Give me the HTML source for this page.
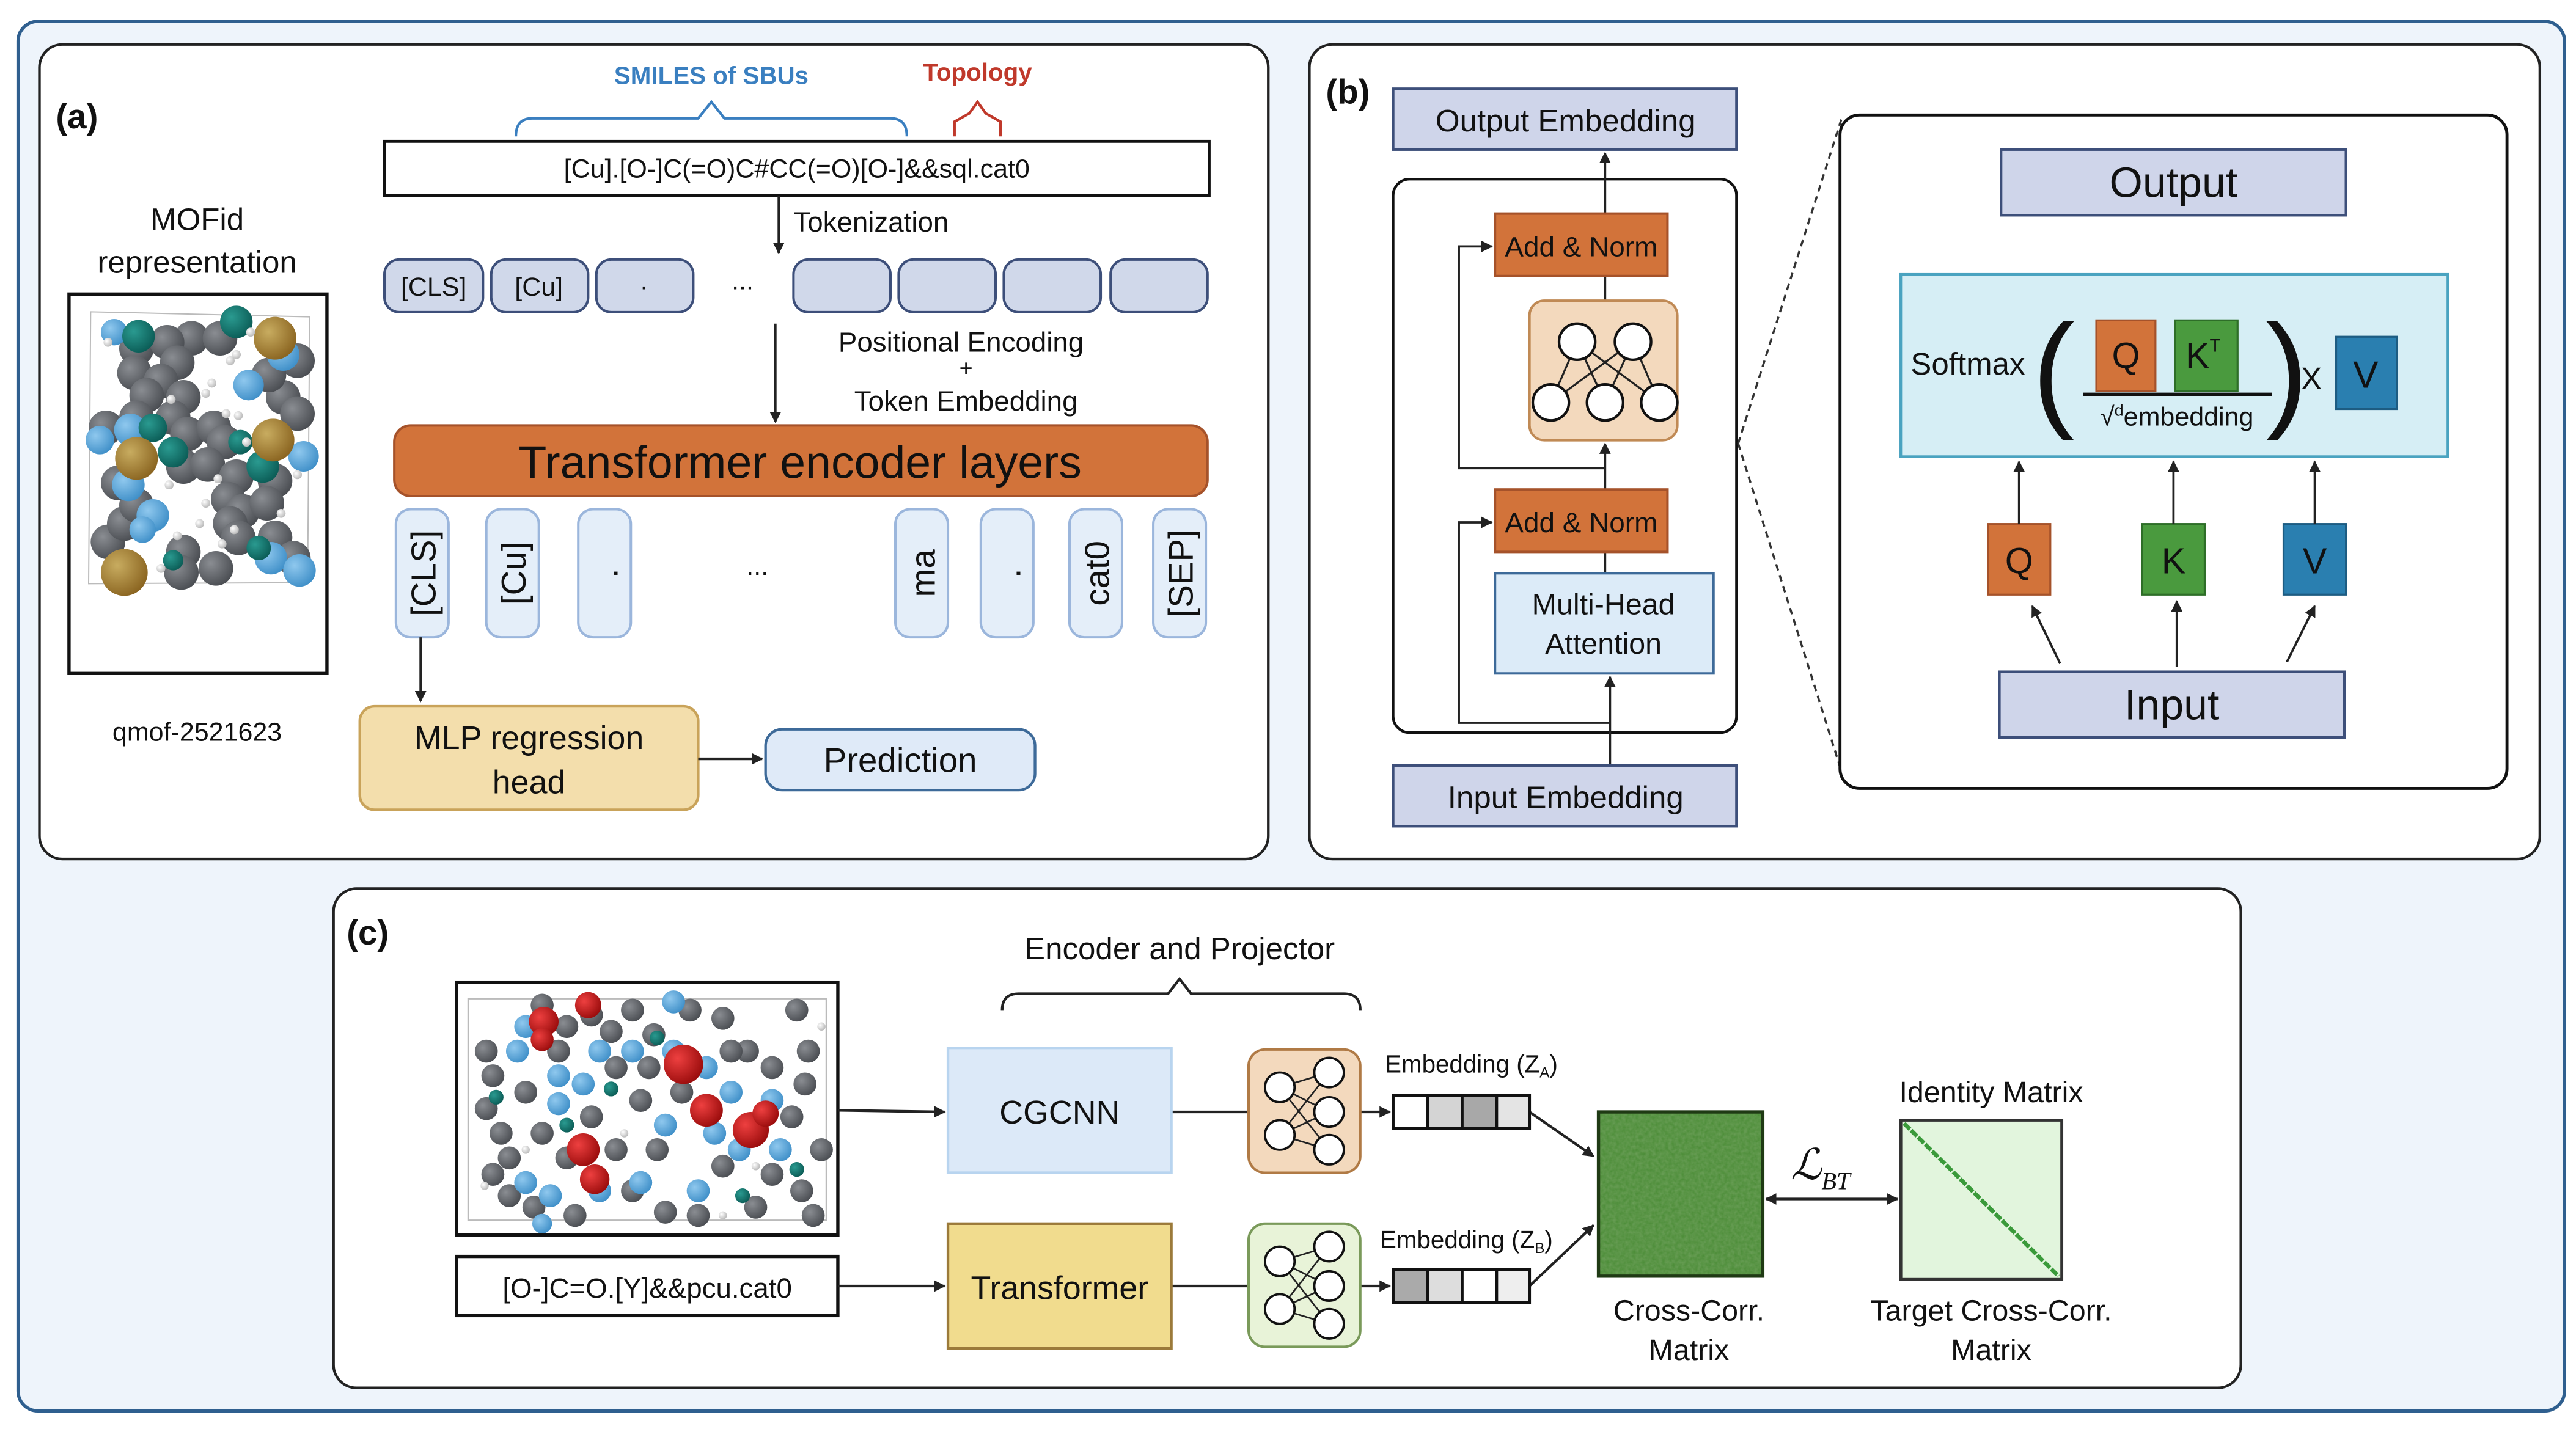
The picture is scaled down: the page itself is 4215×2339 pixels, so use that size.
<!DOCTYPE html>
<html><head><meta charset="utf-8"><style>
html,body{margin:0;padding:0;background:#fff}
svg{display:block}
text{font-family:"Liberation Sans",sans-serif;fill:#111}
</style></head><body>
<svg width="4215" height="2339" viewBox="0 0 1568 870" xmlns="http://www.w3.org/2000/svg">
<defs>
<radialGradient id="gg" cx="0.35" cy="0.35" r="0.7"><stop offset="0" stop-color="#8a8d92"/><stop offset="1" stop-color="#4a4d52"/></radialGradient>
<radialGradient id="gb" cx="0.35" cy="0.35" r="0.7"><stop offset="0" stop-color="#8fc8ee"/><stop offset="1" stop-color="#3f8fc8"/></radialGradient>
<radialGradient id="gt" cx="0.35" cy="0.35" r="0.7"><stop offset="0" stop-color="#2a9a90"/><stop offset="1" stop-color="#0b5c56"/></radialGradient>
<radialGradient id="gr" cx="0.35" cy="0.35" r="0.7"><stop offset="0" stop-color="#c8ac60"/><stop offset="1" stop-color="#8a6420"/></radialGradient>
<radialGradient id="gd" cx="0.35" cy="0.35" r="0.7"><stop offset="0" stop-color="#ee4040"/><stop offset="1" stop-color="#9a0c0c"/></radialGradient>
<radialGradient id="gw" cx="0.35" cy="0.35" r="0.7"><stop offset="0" stop-color="#ffffff"/><stop offset="1" stop-color="#b8b8b8"/></radialGradient>
<filter id="noise" x="0" y="0" width="1" height="1"><feTurbulence type="fractalNoise" baseFrequency="0.5" numOctaves="2" seed="3"/><feColorMatrix type="matrix" values="0 0 0 0 0.15  0 0 0 0 0.35  0 0 0 0 0.1  0 0 0 1.2 -0.2"/><feComposite in2="SourceGraphic" operator="in"/></filter>
<marker id="ar" viewBox="0 0 10 10" refX="9" refY="5" markerWidth="7" markerHeight="7" orient="auto-start-reverse" markerUnits="userSpaceOnUse"><path d="M0,0 L10,5 L0,10 z" fill="#222"/></marker>
</defs>

<rect x="11" y="13" width="1550" height="846" rx="12" fill="#eef4fb" stroke="#2f5f8f" stroke-width="2"/>

<!-- ================= PANEL A ================= -->
<rect x="24" y="27" width="748" height="496" rx="14" fill="#fff" stroke="#222" stroke-width="1.6"/>
<text x="34" y="78" font-size="21" font-weight="bold">(a)</text>
<text x="433" y="51" font-size="15" font-weight="bold" text-anchor="middle" style="fill:#3a7fc0">SMILES of SBUs</text>
<text x="595" y="49" font-size="15" font-weight="bold" text-anchor="middle" style="fill:#c0392b">Topology</text>
<path d="M314,83 Q314,72 324,72 L425,72 L433,62 L441,72 L542,72 Q552,72 552,83" fill="none" stroke="#3a7fc0" stroke-width="1.6"/>
<path d="M581,83 L581,74 L590,69 L595,62 L600,69 L609,74 L609,83" fill="none" stroke="#c0392b" stroke-width="1.6"/>
<rect x="234" y="86" width="502" height="33" fill="#fff" stroke="#111" stroke-width="1.8"/>
<text x="485" y="108" font-size="16" text-anchor="middle">[Cu].[O-]C(=O)C#CC(=O)[O-]&amp;&amp;sql.cat0</text>
<line x1="474" y1="119" x2="474" y2="154" stroke="#222" stroke-width="1.4" marker-end="url(#ar)"/>
<text x="483" y="141" font-size="17">Tokenization</text>
<g fill="#d0d8ea" stroke="#3d4f7a" stroke-width="1.5">
<rect x="234" y="158" width="60" height="32" rx="9"/><rect x="299" y="158" width="59" height="32" rx="9"/><rect x="363" y="158" width="59" height="32" rx="9"/>
<rect x="483" y="158" width="59" height="32" rx="9"/><rect x="547" y="158" width="59" height="32" rx="9"/><rect x="611" y="158" width="59" height="32" rx="9"/><rect x="676" y="158" width="59" height="32" rx="9"/>
</g>
<text x="264" y="180" font-size="16" text-anchor="middle">[CLS]</text>
<text x="328" y="180" font-size="16" text-anchor="middle">[Cu]</text>
<text x="392" y="176" font-size="16" text-anchor="middle">.</text>
<text x="452" y="176" font-size="16" text-anchor="middle">...</text>
<line x1="472" y1="197" x2="472" y2="257" stroke="#222" stroke-width="1.4" marker-end="url(#ar)"/>
<text x="585" y="214" font-size="17" text-anchor="middle">Positional Encoding</text>
<text x="588" y="229" font-size="14" text-anchor="middle">+</text>
<text x="588" y="250" font-size="17" text-anchor="middle">Token Embedding</text>
<rect x="240" y="259" width="495" height="43" rx="10" fill="#d2733a" stroke="#a5522a" stroke-width="1.5"/>
<text x="487" y="291" font-size="28" text-anchor="middle">Transformer encoder layers</text>
<g fill="#e4eef9" stroke="#9bb6dc" stroke-width="1.5">
<rect x="241" y="310" width="32" height="78" rx="9"/><rect x="296" y="310" width="32" height="78" rx="9"/><rect x="352" y="310" width="32" height="78" rx="9"/>
<rect x="545" y="310" width="32" height="78" rx="9"/><rect x="597" y="310" width="32" height="78" rx="9"/><rect x="651" y="310" width="32" height="78" rx="9"/><rect x="702" y="310" width="32" height="78" rx="9"/>
</g>
<g font-size="21">
<text transform="translate(265,349) rotate(-90)" text-anchor="middle">[CLS]</text>
<text transform="translate(320,349) rotate(-90)" text-anchor="middle">[Cu]</text>
<text transform="translate(376,349) rotate(-90)" text-anchor="middle">.</text>
<text transform="translate(569,349) rotate(-90)" text-anchor="middle">ma</text>
<text transform="translate(621,349) rotate(-90)" text-anchor="middle">.</text>
<text transform="translate(675,349) rotate(-90)" text-anchor="middle">cat0</text>
<text transform="translate(726,349) rotate(-90)" text-anchor="middle">[SEP]</text>
</g>
<text x="461" y="350" font-size="16" text-anchor="middle">...</text>
<line x1="256" y1="388" x2="256" y2="427" stroke="#222" stroke-width="1.4" marker-end="url(#ar)"/>
<rect x="219" y="430" width="206" height="63" rx="9" fill="#f3deac" stroke="#c9a35a" stroke-width="1.6"/>
<text x="322" y="456" font-size="20" text-anchor="middle">MLP regression</text>
<text x="322" y="483" font-size="20" text-anchor="middle">head</text>
<line x1="425" y1="462" x2="464" y2="462" stroke="#222" stroke-width="1.6" marker-end="url(#ar)"/>
<rect x="466" y="444" width="164" height="37" rx="10" fill="#dfeaf8" stroke="#3d6a99" stroke-width="1.6"/>
<text x="548" y="470" font-size="21" text-anchor="middle">Prediction</text>
<text x="120" y="140" font-size="19" text-anchor="middle">MOFid</text>
<text x="120" y="166" font-size="19" text-anchor="middle">representation</text>
<text x="120" y="451" font-size="16" text-anchor="middle">qmof-2521623</text>
<rect x="42" y="179" width="157" height="231" fill="#fff" stroke="#111" stroke-width="2"/>
<g transform="translate(37.2,174.9) scale(0.124)">
<path d="M145,120 L1220,145 L1210,1450 L135,1455 Z" fill="none" stroke="#bbb" stroke-width="6"/>
<g fill="url(#gg)">
<circle cx="1160" cy="360" r="85"/><circle cx="1090" cy="540" r="85"/><circle cx="1160" cy="620" r="85"/><circle cx="1020" cy="430" r="85"/>
<circle cx="370" cy="300" r="85"/><circle cx="640" cy="250" r="85"/><circle cx="520" cy="270" r="85"/><circle cx="780" cy="250" r="85"/>
<circle cx="360" cy="420" r="85"/><circle cx="570" cy="370" r="85"/><circle cx="490" cy="460" r="85"/><circle cx="420" cy="530" r="85"/>
<circle cx="600" cy="540" r="85"/><circle cx="370" cy="640" r="85"/><circle cx="220" cy="690" r="85"/><circle cx="550" cy="640" r="85"/>
<circle cx="620" cy="720" r="85"/><circle cx="750" cy="690" r="85"/><circle cx="800" cy="760" r="85"/><circle cx="600" cy="880" r="85"/>
<circle cx="720" cy="870" r="85"/><circle cx="860" cy="930" r="85"/><circle cx="1050" cy="950" r="85"/><circle cx="820" cy="1040" r="85"/>
<circle cx="890" cy="1100" r="85"/><circle cx="1010" cy="1060" r="85"/><circle cx="830" cy="1160" r="85"/><circle cx="1050" cy="1230" r="85"/>
<circle cx="870" cy="1230" r="85"/><circle cx="1140" cy="1330" r="85"/><circle cx="600" cy="1300" r="85"/><circle cx="760" cy="1380" r="85"/>
<circle cx="590" cy="1400" r="85"/><circle cx="230" cy="1250" r="85"/><circle cx="310" cy="1160" r="85"/><circle cx="370" cy="1070" r="85"/><circle cx="280" cy="960" r="85"/>
</g>
<g fill="url(#gb)">
<circle cx="260" cy="220" r="65"/><circle cx="1090" cy="330" r="80"/><circle cx="920" cy="480" r="75"/><circle cx="340" cy="700" r="80"/>
<circle cx="190" cy="750" r="70"/><circle cx="330" cy="970" r="80"/><circle cx="450" cy="1120" r="80"/><circle cx="400" cy="1190" r="65"/>
<circle cx="1190" cy="830" r="75"/><circle cx="1030" cy="1330" r="80"/><circle cx="1170" cy="1390" r="80"/>
</g>
<g fill="url(#gt)">
<circle cx="380" cy="240" r="80"/><circle cx="860" cy="170" r="80"/><circle cx="450" cy="690" r="70"/><circle cx="550" cy="810" r="75"/>
<circle cx="880" cy="760" r="60"/><circle cx="990" cy="880" r="80"/><circle cx="970" cy="1280" r="60"/><circle cx="550" cy="1340" r="50"/>
</g>
<g fill="url(#gr)">
<circle cx="1050" cy="250" r="105"/><circle cx="1040" cy="750" r="105"/><circle cx="370" cy="840" r="105"/><circle cx="310" cy="1400" r="115"/>
</g>
<g fill="url(#gw)">
<circle cx="230" cy="270" r="22"/><circle cx="930" cy="220" r="22"/><circle cx="860" cy="330" r="22"/><circle cx="830" cy="360" r="22"/>
<circle cx="740" cy="470" r="22"/><circle cx="710" cy="520" r="22"/><circle cx="540" cy="550" r="22"/><circle cx="810" cy="620" r="22"/>
<circle cx="870" cy="630" r="22"/><circle cx="910" cy="760" r="22"/><circle cx="770" cy="940" r="22"/><circle cx="530" cy="970" r="22"/>
<circle cx="710" cy="1060" r="22"/><circle cx="680" cy="1160" r="22"/><circle cx="1080" cy="1110" r="22"/><circle cx="850" cy="1190" r="22"/>
<circle cx="570" cy="1220" r="22"/><circle cx="790" cy="1260" r="22"/><circle cx="490" cy="1380" r="22"/><circle cx="1160" cy="920" r="22"/>
</g>
</g>

<!-- ================= PANEL B ================= -->
<rect x="797" y="27" width="749" height="496" rx="14" fill="#fff" stroke="#222" stroke-width="1.6"/>
<text x="807" y="63" font-size="21" font-weight="bold">(b)</text>
<rect x="848" y="54" width="209" height="37" fill="#cfd5ea" stroke="#3d4f7a" stroke-width="1.6"/>
<text x="953" y="80" font-size="19" text-anchor="middle">Output Embedding</text>
<rect x="848" y="109" width="209" height="337" rx="10" fill="#fff" stroke="#111" stroke-width="1.6"/>
<line x1="977" y1="130" x2="977" y2="93" stroke="#222" stroke-width="1.4" marker-end="url(#ar)"/>
<line x1="977" y1="168" x2="977" y2="183" stroke="#222" stroke-width="1.4"/>
<line x1="977" y1="298" x2="977" y2="270" stroke="#222" stroke-width="1.4" marker-end="url(#ar)"/>
<path d="M977,285 L888,285 L888,150 L908,150" fill="none" stroke="#222" stroke-width="1.4" marker-end="url(#ar)"/>
<path d="M980,440 L888,440 L888,318 L908,318" fill="none" stroke="#222" stroke-width="1.4" marker-end="url(#ar)"/>
<line x1="980" y1="466" x2="980" y2="412" stroke="#222" stroke-width="1.4" marker-end="url(#ar)"/>
<line x1="977" y1="336" x2="977" y2="349" stroke="#222" stroke-width="1.4"/>
<rect x="910" y="130" width="105" height="38" fill="#d2733a" stroke="#a5522a" stroke-width="1.5"/>
<text x="962.5" y="156" font-size="17" text-anchor="middle" textLength="93" lengthAdjust="spacingAndGlyphs">Add &amp; Norm</text>
<rect x="931" y="183" width="90" height="85" rx="9" fill="#f3d9bd" stroke="#c08a55" stroke-width="1.5"/>
<g stroke="#222" stroke-width="1.2">
<line x1="960" y1="208" x2="944" y2="245"/><line x1="960" y1="208" x2="977" y2="245"/><line x1="960" y1="208" x2="1010" y2="245"/>
<line x1="994" y1="208" x2="944" y2="245"/><line x1="994" y1="208" x2="977" y2="245"/><line x1="994" y1="208" x2="1010" y2="245"/>
</g>
<g fill="#fff" stroke="#111" stroke-width="1.6">
<circle cx="960" cy="208" r="11"/><circle cx="994" cy="208" r="11"/><circle cx="944" cy="245" r="11"/><circle cx="977" cy="245" r="11"/><circle cx="1010" cy="245" r="11"/>
</g>
<rect x="910" y="298" width="105" height="38" fill="#d2733a" stroke="#a5522a" stroke-width="1.5"/>
<text x="962.5" y="324" font-size="17" text-anchor="middle" textLength="93" lengthAdjust="spacingAndGlyphs">Add &amp; Norm</text>
<rect x="910" y="349" width="133" height="61" fill="#dcebf8" stroke="#3d6a99" stroke-width="1.5"/>
<text x="976" y="374" font-size="18" text-anchor="middle">Multi-Head</text>
<text x="976" y="398" font-size="18" text-anchor="middle">Attention</text>
<rect x="848" y="466" width="209" height="37" fill="#cfd5ea" stroke="#3d4f7a" stroke-width="1.6"/>
<text x="953" y="492" font-size="19" text-anchor="middle">Input Embedding</text>
<line x1="1058" y1="270" x2="1121" y2="72" stroke="#333" stroke-width="1.3" stroke-dasharray="4,3"/>
<line x1="1058" y1="270" x2="1121" y2="470" stroke="#333" stroke-width="1.3" stroke-dasharray="4,3"/>
<rect x="1120" y="70" width="406" height="410" rx="12" fill="#fff" stroke="#111" stroke-width="1.8"/>
<rect x="1218" y="91" width="210" height="40" fill="#cfd5ea" stroke="#3d4f7a" stroke-width="1.6"/>
<text x="1323" y="120" font-size="26" text-anchor="middle">Output</text>
<rect x="1157" y="167" width="333" height="111" fill="#d6eef5" stroke="#4aa3c0" stroke-width="1.6"/>
<text x="1163" y="228" font-size="19">Softmax</text>
<text x="1250" y="252" font-size="78" text-anchor="middle">(</text>
<text x="1392" y="252" font-size="78" text-anchor="middle">)</text>
<rect x="1276" y="195" width="36" height="43" fill="#d2733a" stroke="#a5522a" stroke-width="1.2"/>
<text x="1294" y="224" font-size="22" text-anchor="middle">Q</text>
<rect x="1324" y="195" width="38" height="43" fill="#4a9a3e" stroke="#2e6e28" stroke-width="1.2"/>
<text x="1341" y="224" font-size="22" text-anchor="middle">K<tspan font-size="11" dy="-10">T</tspan></text>
<line x1="1268" y1="240" x2="1383" y2="240" stroke="#111" stroke-width="2"/>
<text x="1325" y="259" font-size="16" text-anchor="middle">√<tspan font-size="10" dy="-6">d</tspan><tspan dy="6">embedding</tspan></text>
<text x="1407" y="237" font-size="19" text-anchor="middle">X</text>
<rect x="1422" y="205" width="37" height="44" fill="#2a7fb0" stroke="#1d5c82" stroke-width="1.2"/>
<text x="1440" y="236" font-size="23" text-anchor="middle">V</text>
<rect x="1210" y="319" width="38" height="43" fill="#d2733a" stroke="#a5522a" stroke-width="1.2"/>
<text x="1229" y="349" font-size="22" text-anchor="middle">Q</text>
<rect x="1304" y="319" width="38" height="43" fill="#4a9a3e" stroke="#2e6e28" stroke-width="1.2"/>
<text x="1323" y="349" font-size="22" text-anchor="middle">K</text>
<rect x="1390" y="319" width="38" height="43" fill="#2a7fb0" stroke="#1d5c82" stroke-width="1.2"/>
<text x="1409" y="349" font-size="22" text-anchor="middle">V</text>
<g stroke="#222" stroke-width="1.4">
<line x1="1229" y1="319" x2="1229" y2="281" marker-end="url(#ar)"/>
<line x1="1323" y1="319" x2="1323" y2="281" marker-end="url(#ar)"/>
<line x1="1409" y1="319" x2="1409" y2="281" marker-end="url(#ar)"/>
<line x1="1254" y1="404" x2="1237" y2="369" marker-end="url(#ar)"/>
<line x1="1325" y1="406" x2="1325" y2="366" marker-end="url(#ar)"/>
<line x1="1392" y1="403" x2="1409" y2="369" marker-end="url(#ar)"/>
</g>
<rect x="1217" y="409" width="210" height="40" fill="#cfd5ea" stroke="#3d4f7a" stroke-width="1.6"/>
<text x="1322" y="438" font-size="26" text-anchor="middle">Input</text>

<!-- ================= PANEL C ================= -->
<rect x="203" y="541" width="1161" height="304" rx="14" fill="#fff" stroke="#222" stroke-width="1.6"/>
<text x="211" y="575" font-size="21" font-weight="bold">(c)</text>
<text x="718" y="584" font-size="19" text-anchor="middle">Encoder and Projector</text>
<path d="M610,615 Q610,605 620,605 L711,605 L718,596 L725,605 L818,605 Q828,605 828,615" fill="none" stroke="#222" stroke-width="1.6"/>
<rect x="278" y="598" width="232" height="154" fill="#fff" stroke="#111" stroke-width="2"/>
<rect x="285" y="608" width="218" height="135" fill="none" stroke="#bbb" stroke-width="1"/>
<g>
<g fill="url(#gg)">
<circle cx="296" cy="640" r="7"/><circle cx="300" cy="655" r="7"/><circle cx="296" cy="675" r="7"/><circle cx="305" cy="690" r="7"/><circle cx="330" cy="612" r="7"/><circle cx="345" cy="625" r="7"/><circle cx="360" cy="618" r="7"/>
<circle cx="372" cy="628" r="7"/><circle cx="385" cy="615" r="7"/><circle cx="398" cy="630" r="7"/><circle cx="420" cy="615" r="7"/><circle cx="440" cy="620" r="7"/><circle cx="455" cy="640" r="7"/><circle cx="485" cy="615" r="7"/>
<circle cx="492" cy="640" r="7"/><circle cx="490" cy="660" r="7"/><circle cx="482" cy="680" r="7"/><circle cx="330" cy="690" r="7"/><circle cx="345" cy="705" r="7"/><circle cx="360" cy="680" r="7"/><circle cx="375" cy="700" r="7"/>
<circle cx="390" cy="670" r="7"/><circle cx="300" cy="715" r="7"/><circle cx="310" cy="728" r="7"/><circle cx="325" cy="735" r="7"/><circle cx="350" cy="740" r="7"/><circle cx="405" cy="738" r="7"/>
<circle cx="460" cy="690" r="7"/><circle cx="470" cy="715" r="7"/><circle cx="488" cy="725" r="7"/><circle cx="400" cy="700" r="7"/><circle cx="375" cy="650" r="7"/><circle cx="415" cy="665" r="7"/>
<circle cx="440" cy="710" r="7"/><circle cx="460" cy="735" r="7"/><circle cx="500" cy="700" r="7"/><circle cx="320" cy="665" r="7"/><circle cx="340" cy="640" r="7"/><circle cx="395" cy="650" r="7"/>
<circle cx="445" cy="640" r="7"/><circle cx="470" cy="650" r="7"/><circle cx="310" cy="705" r="7"/><circle cx="495" cy="740" r="7"/><circle cx="425" cy="740" r="7"/><circle cx="385" cy="725" r="7"/>
</g>
<g fill="url(#gb)">
<circle cx="320" cy="625" r="7"/><circle cx="315" cy="640" r="7"/><circle cx="340" cy="655" r="7"/><circle cx="355" cy="660" r="7"/><circle cx="385" cy="640" r="7"/><circle cx="410" cy="640" r="7"/>
<circle cx="430" cy="650" r="7"/><circle cx="445" cy="665" r="7"/><circle cx="435" cy="690" r="7"/><circle cx="470" cy="670" r="7"/><circle cx="475" cy="700" r="7"/><circle cx="320" cy="720" r="7"/>
<circle cx="335" cy="728" r="7"/><circle cx="365" cy="725" r="7"/><circle cx="390" cy="720" r="7"/><circle cx="425" cy="725" r="7"/><circle cx="410" cy="610" r="7"/><circle cx="330" cy="745" r="6"/>
<circle cx="405" cy="685" r="7"/><circle cx="450" cy="700" r="7"/><circle cx="365" cy="640" r="7"/><circle cx="340" cy="672" r="7"/>
</g>
<g fill="url(#gt)">
<circle cx="302" cy="668" r="4.5"/><circle cx="400" cy="632" r="4.5"/><circle cx="345" cy="685" r="4.5"/><circle cx="485" cy="712" r="4.5"/><circle cx="452" cy="728" r="4.5"/><circle cx="372" cy="663" r="4.5"/>
</g>
<g fill="url(#gd)">
<circle cx="331" cy="622" r="9"/><circle cx="358" cy="612" r="8"/><circle cx="416" cy="648" r="12"/><circle cx="430" cy="676" r="10"/><circle cx="457" cy="688" r="11"/><circle cx="355" cy="700" r="10"/>
<circle cx="362" cy="718" r="9"/><circle cx="466" cy="678" r="8"/><circle cx="330" cy="633" r="7"/>
</g>
<g fill="url(#gw)">
<circle cx="295" cy="722" r="2.5"/><circle cx="460" cy="710" r="2.5"/><circle cx="500" cy="625" r="2.5"/><circle cx="380" cy="690" r="2.5"/><circle cx="320" cy="700" r="2.5"/><circle cx="440" cy="740" r="2.5"/>
</g>
</g>
<rect x="278" y="765" width="232" height="36" fill="#fff" stroke="#111" stroke-width="2"/>
<text x="394" y="790" font-size="17" text-anchor="middle">[O-]C=O.[Y]&amp;&amp;pcu.cat0</text>
<g stroke="#222" stroke-width="1.6">
<line x1="510" y1="676" x2="575" y2="677" marker-end="url(#ar)"/>
<line x1="510" y1="783" x2="575" y2="783" marker-end="url(#ar)"/>
<line x1="713" y1="677" x2="760" y2="677"/>
<line x1="713" y1="783" x2="760" y2="783"/>
<line x1="828" y1="677" x2="846" y2="677" marker-end="url(#ar)"/>
<line x1="828" y1="783" x2="846" y2="783" marker-end="url(#ar)"/>
<line x1="931" y1="677" x2="970" y2="704" marker-end="url(#ar)"/>
<line x1="931" y1="783" x2="970" y2="746" marker-end="url(#ar)"/>
<line x1="1075" y1="730" x2="1155" y2="730" marker-end="url(#ar)" marker-start="url(#ar)"/>
</g>
<rect x="577" y="638" width="136" height="76" fill="#dce9f8" stroke="#b8d4ef" stroke-width="1.6"/>
<text x="645" y="684" font-size="20" text-anchor="middle">CGCNN</text>
<rect x="577" y="745" width="136" height="76" fill="#f1dc8e" stroke="#9b7a3a" stroke-width="1.6"/>
<text x="645" y="791" font-size="20" text-anchor="middle">Transformer</text>
<rect x="760" y="639" width="68" height="75" rx="10" fill="#f3d9bd" stroke="#b07a45" stroke-width="1.5"/>
<rect x="760" y="745" width="68" height="75" rx="10" fill="#e8f3d8" stroke="#7a9a5a" stroke-width="1.5"/>
<g stroke="#222" stroke-width="1" fill="none">
<path d="M779,662 L809,653 M779,662 L809,677 M779,662 L809,700 M779,691 L809,653 M779,691 L809,677 M779,691 L809,700"/>
<path d="M779,768 L809,759 M779,768 L809,783 M779,768 L809,806 M779,797 L809,759 M779,797 L809,783 M779,797 L809,806"/>
</g>
<g fill="#fff" stroke="#111" stroke-width="1.4">
<circle cx="779" cy="662" r="9"/><circle cx="779" cy="691" r="9"/><circle cx="809" cy="653" r="9"/><circle cx="809" cy="677" r="9"/><circle cx="809" cy="700" r="9"/>
<circle cx="779" cy="768" r="9"/><circle cx="779" cy="797" r="9"/><circle cx="809" cy="759" r="9"/><circle cx="809" cy="783" r="9"/><circle cx="809" cy="806" r="9"/>
</g>
<text x="843" y="653" font-size="15">Embedding (Z<tspan font-size="9" dy="3">A</tspan><tspan dy="-3">)</tspan></text>
<text x="840" y="760" font-size="15">Embedding (Z<tspan font-size="9" dy="3">B</tspan><tspan dy="-3">)</tspan></text>
<g stroke="#111" stroke-width="1.8">
<rect x="848" y="667" width="21" height="20" fill="#fff"/><rect x="869" y="667" width="21" height="20" fill="#d4d4d4"/><rect x="890" y="667" width="21" height="20" fill="#a8a8a8"/><rect x="911" y="667" width="20" height="20" fill="#e4e4e4"/>
<rect x="848" y="773" width="21" height="20" fill="#aaa"/><rect x="869" y="773" width="21" height="20" fill="#ddd"/><rect x="890" y="773" width="21" height="20" fill="#fff"/><rect x="911" y="773" width="20" height="20" fill="#eee"/>
</g>
<rect x="973" y="677" width="100" height="100" fill="#4e8e3a"/>
<rect x="973" y="677" width="100" height="100" fill="#4e8e3a" filter="url(#noise)"/>
<rect x="973" y="677" width="100" height="100" fill="none" stroke="#1f3a14" stroke-width="2"/>
<text x="1028" y="804" font-size="18" text-anchor="middle">Cross-Corr.</text>
<text x="1028" y="828" font-size="18" text-anchor="middle">Matrix</text>
<text x="1090" y="718" font-size="26" font-style="italic" style="font-family:'Liberation Serif',serif">ℒ<tspan font-size="15" dy="6">BT</tspan></text>
<rect x="1157" y="682" width="98" height="97" fill="#e2f5dd" stroke="#333" stroke-width="1.8"/>
<line x1="1159" y1="684" x2="1253" y2="777" stroke="#3a9a3a" stroke-width="2.5" stroke-dasharray="5,1"/>
<text x="1212" y="671" font-size="18" text-anchor="middle">Identity Matrix</text>
<text x="1212" y="804" font-size="18" text-anchor="middle">Target Cross-Corr.</text>
<text x="1212" y="828" font-size="18" text-anchor="middle">Matrix</text>
</svg>
</body></html>
